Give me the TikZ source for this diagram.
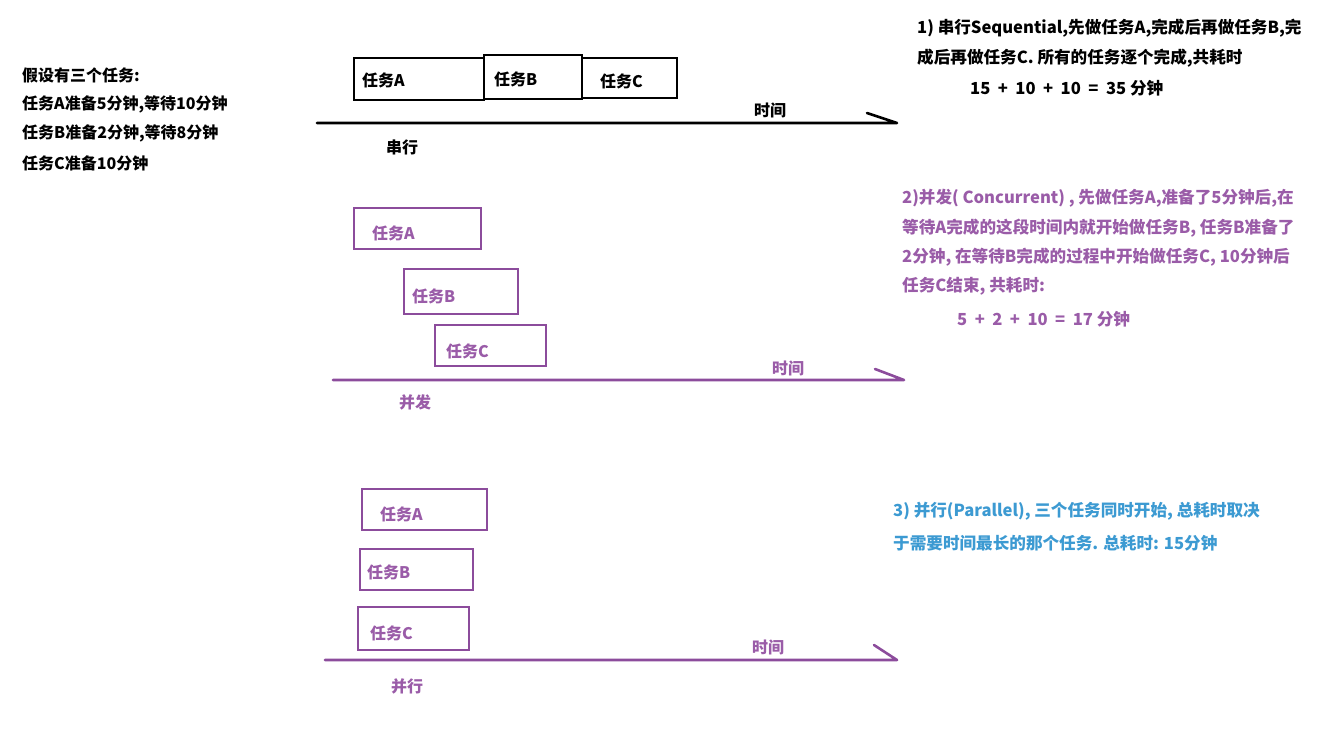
\documentclass[tikz,border=0pt]{standalone}
\usepackage{fontspec}
\setmainfont{Noto Sans CJK SC}
\definecolor{pboxc}{HTML}{8C4C9C}
\definecolor{ptext}{HTML}{9A5CA8}
\definecolor{btext}{HTML}{3C9AD2}
\newcommand{\eqgap}{\hspace{0.45em}}
\tikzset{
  txt/.style={anchor=west, inner sep=0pt, font=\fontsize{16}{18}\selectfont\bfseries},
  rtxt/.style={anchor=west, inner sep=0pt, font=\fontsize{16.6}{18}\selectfont\bfseries},
  tbox/.style={draw, line width=2.4pt, anchor=north west, inner sep=0pt},
  lbl/.style={anchor=west, inner sep=0pt, font=\fontsize{16}{18}\selectfont\bfseries},
  axis/.style={line width=2.6pt, line cap=round, line join=round},
}
\begin{document}
\begin{tikzpicture}[x=1pt,y=-1pt]
\useasboundingbox (0,0) rectangle (1330,728);
\fill[white] (0,0) rectangle (1330,728);

% left description
\node[txt] (d0) at (22,75) {假设有三个任务:};
\node[txt] (d1) at (22,104) {任务A准备5分钟,等待10分钟};
\node[txt] (d2) at (22,133) {任务B准备2分钟,等待8分钟};
\node[txt] (d3) at (22,163) {任务C准备10分钟};

% ---- sequential (black) ----
\node[tbox, minimum width=130pt, minimum height=42pt, label={[lbl, xshift=9pt, yshift=-1pt]west:任务A}] (sa) at (353,57) {};
\node[tbox, minimum width=98pt, minimum height=44pt, label={[lbl, xshift=11pt, yshift=-2pt]west:任务B}] (sb) at (483,54) {};
\node[tbox, minimum width=95pt, minimum height=40pt, label={[lbl, xshift=19pt, yshift=-3pt]west:任务C}] (sc) at (581,57) {};
\coordinate (s0) at (317,123);
\coordinate (s1) at (897,123);
\coordinate (st) at (867,113);
\draw[axis] (s0) -- (s1) -- (st);
\node[txt] (stime) at (754,110) {时间};
\node[txt] (sname) at (386,147) {串行};

\node[rtxt] (t1) at (917,28) {1) 串行Sequential,先做任务A,完成后再做任务B,完};
\node[rtxt] (t2) at (917,58) {成后再做任务C. 所有的任务逐个完成,共耗时};
\node[rtxt] (t3) at (970,88) {15\eqgap+\eqgap10\eqgap+\eqgap10\eqgap=\eqgap35 分钟};

% ---- concurrent (purple) ----
\node[tbox, draw=pboxc, minimum width=127pt, minimum height=41pt, label={[lbl, text=ptext, xshift=19pt, yshift=-5pt]west:任务A}] (ca) at (353,207) {};
\node[tbox, draw=pboxc, minimum width=114pt, minimum height=45pt, label={[lbl, text=ptext, xshift=9pt, yshift=-5pt]west:任务B}] (cb) at (403,268) {};
\node[tbox, draw=pboxc, minimum width=111pt, minimum height=41pt, label={[lbl, text=ptext, xshift=12pt, yshift=-6pt]west:任务C}] (cc) at (434,324) {};
\coordinate (c0) at (333,380);
\coordinate (c1) at (904,380);
\coordinate (ct) at (875,369);
\draw[axis, draw=pboxc] (c0) -- (c1) -- (ct);
\node[txt, text=ptext] (ctime) at (772,368) {时间};
\node[txt, text=ptext] (cname) at (399,402) {并发};

\node[rtxt, text=ptext] (m1) at (902,198) {2)并发( Concurrent) , 先做任务A,准备了5分钟后,在};
\node[rtxt, text=ptext] (m2) at (902,228) {等待A完成的这段时间内就开始做任务B, 任务B准备了};
\node[rtxt, text=ptext] (m3) at (902,257) {2分钟, 在等待B完成的过程中开始做任务C, 10分钟后};
\node[rtxt, text=ptext] (m4) at (902,286) {任务C结束, 共耗时:};
\node[rtxt, text=ptext] (m5) at (957,319) {5\eqgap+\eqgap2\eqgap+\eqgap10\eqgap=\eqgap17 分钟};

% ---- parallel ----
\node[tbox, draw=pboxc, minimum width=125pt, minimum height=41pt, label={[lbl, text=ptext, xshift=19pt, yshift=-5pt]west:任务A}] (pa) at (361,488) {};
\node[tbox, draw=pboxc, minimum width=113pt, minimum height=41pt, label={[lbl, text=ptext, xshift=8pt, yshift=-3pt]west:任务B}] (pb) at (359,548) {};
\node[tbox, draw=pboxc, minimum width=111pt, minimum height=43pt, label={[lbl, text=ptext, xshift=13pt, yshift=-5pt]west:任务C}] (pc) at (357,606) {};
\coordinate (p0) at (325,660);
\coordinate (p1) at (897,660);
\coordinate (pt) at (874,645);
\draw[axis, draw=pboxc] (p0) -- (p1) -- (pt);
\node[txt, text=ptext] (ptime) at (752,647) {时间};
\node[txt, text=ptext] (pname) at (391,686) {并行};

\node[rtxt, text=btext] (b1) at (893,511) {3) 并行(Parallel), 三个任务同时开始, 总耗时取决};
\node[rtxt, text=btext] (b2) at (893,543) {于需要时间最长的那个任务. 总耗时: 15分钟};
\end{tikzpicture}
\end{document}
